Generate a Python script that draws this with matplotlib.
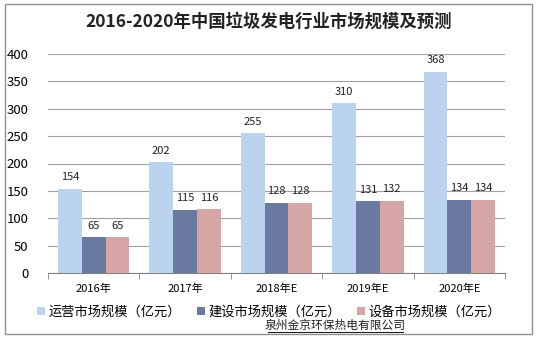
import matplotlib.pyplot as plt
import numpy as np
from matplotlib.patches import Rectangle

plt.rcParams['font.family'] = ['Noto Sans CJK SC', 'DejaVu Sans']

years = ['2016年', '2017年', '2018年E', '2019年E', '2020年E']
operation = [154, 202, 255, 310, 368]
construction = [65, 115, 128, 131, 134]
equipment = [65, 116, 128, 132, 134]
series_names = ['运营市场规模（亿元）', '建设市场规模（亿元）', '设备市场规模（亿元）']
colors = ['#bcd3ef', '#69799f', '#d6a5a6']

fig = plt.figure(figsize=(5.38, 3.38), dpi=100)
ax = fig.add_axes([48 / 538, 1 - 273 / 338, 457 / 538, 219 / 338])

x = np.arange(len(years))
w = 0.26
for i, (vals, c, name) in enumerate(zip([operation, construction, equipment], colors, series_names)):
    bars = ax.bar(x + (i - 1) * w, vals, w, color=c, label=name, zorder=3)
    for b, v in zip(bars, vals):
        ax.text(b.get_x() + b.get_width() / 2, v + 12, str(v), ha='center', va='bottom',
                fontsize=8, color='#222222')

ax.set_xlim(-0.5, len(years) - 0.5)
ax.set_ylim(0, 400)
ax.set_yticks(range(0, 401, 50))
ax.yaxis.grid(True, color='#a0a0a0', linewidth=0.8, zorder=0)
ax.tick_params(axis='y', length=0, labelsize=9.5, pad=14)
ax.set_xticks(x)
ax.set_xticklabels(years, fontsize=8)
ax.set_xticks(np.arange(-0.5, len(years), 1), minor=True)
ax.tick_params(axis='x', which='major', length=0, pad=8)
ax.tick_params(axis='x', which='minor', length=4, color='#808080')
for s in ['top', 'right', 'left']:
    ax.spines[s].set_visible(False)
ax.spines['bottom'].set_color('#808080')

fig.text(0.5, 1 - 22 / 338, '2016-2020年中国垃圾发电行业市场规模及预测', ha='center', va='center',
         fontsize=12.5, fontweight='bold', color='#222222')

fig.legend(loc='center', bbox_to_anchor=(0.5, 1 - 312 / 338), ncol=3, frameon=False,
           fontsize=9.5, handlelength=0.6, handleheight=0.6, columnspacing=1.2, handletextpad=0.3)

fig.text(335 / 538, 1 - 325 / 338, '泉州金京环保热电有限公司', ha='center', va='center',
         fontsize=8.5, color='#222222')
fig.add_artist(plt.Line2D([268 / 538, 403 / 538], [1 - 332 / 338, 1 - 332 / 338],
                          transform=fig.transFigure, color='#222222', linewidth=0.8))

fig.patches.append(Rectangle((5 / 538, 4 / 338), 527 / 538, 330 / 338, transform=fig.transFigure,
                             fill=False, edgecolor='#909090', linewidth=1))

fig.savefig('out.png', dpi=100)
